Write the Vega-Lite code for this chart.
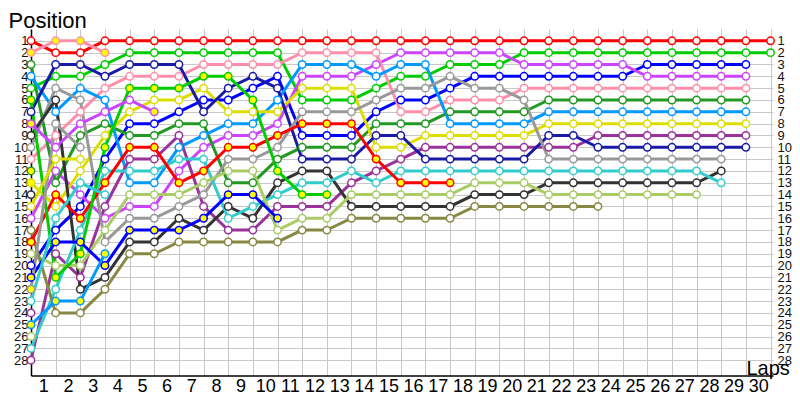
{
"$schema":"https://vega.github.io/schema/vega-lite/v6.json",
"width":742,"height":346.6,"autosize":"none",
"padding":{"left":31,"top":29,"right":27,"bottom":24},
"background":"white",
"config":{"view":{"stroke":null},"font":"Liberation Sans"},
"data":{"values":[
{"d":"A","k":0,"p":1},{"d":"A","k":1,"p":2},{"d":"A","k":2,"p":2},{"d":"A","k":3,"p":1},{"d":"A","k":4,"p":1},{"d":"A","k":5,"p":1},{"d":"A","k":6,"p":1},{"d":"A","k":7,"p":1},{"d":"A","k":8,"p":1},{"d":"A","k":9,"p":1},{"d":"A","k":10,"p":1},{"d":"A","k":11,"p":1},{"d":"A","k":12,"p":1},{"d":"A","k":13,"p":1},{"d":"A","k":14,"p":1},{"d":"A","k":15,"p":1},{"d":"A","k":16,"p":1},{"d":"A","k":17,"p":1},{"d":"A","k":18,"p":1},{"d":"A","k":19,"p":1},{"d":"A","k":20,"p":1},{"d":"A","k":21,"p":1},{"d":"A","k":22,"p":1},{"d":"A","k":23,"p":1},{"d":"A","k":24,"p":1},{"d":"A","k":25,"p":1},{"d":"A","k":26,"p":1},{"d":"A","k":27,"p":1},{"d":"A","k":28,"p":1},{"d":"A","k":29,"p":1},{"d":"A","k":30,"p":1},
{"d":"B","k":0,"p":5},{"d":"B","k":1,"p":4},{"d":"B","k":2,"p":4},{"d":"B","k":3,"p":3},{"d":"B","k":4,"p":2},{"d":"B","k":5,"p":2},{"d":"B","k":6,"p":2},{"d":"B","k":7,"p":2},{"d":"B","k":8,"p":2},{"d":"B","k":9,"p":2},{"d":"B","k":10,"p":2},{"d":"B","k":11,"p":6},{"d":"B","k":12,"p":6},{"d":"B","k":13,"p":6},{"d":"B","k":14,"p":5},{"d":"B","k":15,"p":4},{"d":"B","k":16,"p":4},{"d":"B","k":17,"p":3},{"d":"B","k":18,"p":3},{"d":"B","k":19,"p":3},{"d":"B","k":20,"p":2},{"d":"B","k":21,"p":2},{"d":"B","k":22,"p":2},{"d":"B","k":23,"p":2},{"d":"B","k":24,"p":2},{"d":"B","k":25,"p":2},{"d":"B","k":26,"p":2},{"d":"B","k":27,"p":2},{"d":"B","k":28,"p":2},{"d":"B","k":29,"p":2},{"d":"B","k":30,"p":2},
{"d":"C","k":0,"p":20},{"d":"C","k":1,"p":17},{"d":"C","k":2,"p":15},{"d":"C","k":3,"p":11},{"d":"C","k":4,"p":8},{"d":"C","k":5,"p":8},{"d":"C","k":6,"p":7},{"d":"C","k":7,"p":6},{"d":"C","k":8,"p":6},{"d":"C","k":9,"p":5},{"d":"C","k":10,"p":4},{"d":"C","k":11,"p":9},{"d":"C","k":12,"p":9},{"d":"C","k":13,"p":9},{"d":"C","k":14,"p":7},{"d":"C","k":15,"p":6},{"d":"C","k":16,"p":6},{"d":"C","k":17,"p":5},{"d":"C","k":18,"p":4},{"d":"C","k":19,"p":4},{"d":"C","k":20,"p":4},{"d":"C","k":21,"p":4},{"d":"C","k":22,"p":4},{"d":"C","k":23,"p":4},{"d":"C","k":24,"p":4},{"d":"C","k":25,"p":3},{"d":"C","k":26,"p":3},{"d":"C","k":27,"p":3},{"d":"C","k":28,"p":3},{"d":"C","k":29,"p":3},
{"d":"D","k":0,"p":16},{"d":"D","k":1,"p":12},{"d":"D","k":2,"p":14},{"d":"D","k":3,"p":16},{"d":"D","k":4,"p":15},{"d":"D","k":5,"p":15},{"d":"D","k":6,"p":12},{"d":"D","k":7,"p":10},{"d":"D","k":8,"p":9},{"d":"D","k":9,"p":9},{"d":"D","k":10,"p":8},{"d":"D","k":11,"p":4},{"d":"D","k":12,"p":4},{"d":"D","k":13,"p":4},{"d":"D","k":14,"p":3},{"d":"D","k":15,"p":2},{"d":"D","k":16,"p":2},{"d":"D","k":17,"p":2},{"d":"D","k":18,"p":2},{"d":"D","k":19,"p":2},{"d":"D","k":20,"p":3},{"d":"D","k":21,"p":3},{"d":"D","k":22,"p":3},{"d":"D","k":23,"p":3},{"d":"D","k":24,"p":3},{"d":"D","k":25,"p":4},{"d":"D","k":26,"p":4},{"d":"D","k":27,"p":4},{"d":"D","k":28,"p":4},{"d":"D","k":29,"p":4},
{"d":"E","k":0,"p":11},{"d":"E","k":1,"p":9},{"d":"E","k":2,"p":7},{"d":"E","k":3,"p":5},{"d":"E","k":4,"p":4},{"d":"E","k":5,"p":4},{"d":"E","k":6,"p":4},{"d":"E","k":7,"p":3},{"d":"E","k":8,"p":3},{"d":"E","k":9,"p":3},{"d":"E","k":10,"p":3},{"d":"E","k":11,"p":2},{"d":"E","k":12,"p":2},{"d":"E","k":13,"p":2},{"d":"E","k":14,"p":2},{"d":"E","k":15,"p":7},{"d":"E","k":16,"p":7},{"d":"E","k":17,"p":6},{"d":"E","k":18,"p":6},{"d":"E","k":19,"p":6},{"d":"E","k":20,"p":5},{"d":"E","k":21,"p":5},{"d":"E","k":22,"p":5},{"d":"E","k":23,"p":5},{"d":"E","k":24,"p":5},{"d":"E","k":25,"p":5},{"d":"E","k":26,"p":5},{"d":"E","k":27,"p":5},{"d":"E","k":28,"p":5},{"d":"E","k":29,"p":5},
{"d":"F","k":0,"p":3},{"d":"F","k":1,"p":13},{"d":"F","k":2,"p":9},{"d":"F","k":3,"p":8},{"d":"F","k":4,"p":9},{"d":"F","k":5,"p":9},{"d":"F","k":6,"p":8},{"d":"F","k":7,"p":8},{"d":"F","k":8,"p":13},{"d":"F","k":9,"p":13},{"d":"F","k":10,"p":11},{"d":"F","k":11,"p":10},{"d":"F","k":12,"p":10},{"d":"F","k":13,"p":10},{"d":"F","k":14,"p":8},{"d":"F","k":15,"p":8},{"d":"F","k":16,"p":8},{"d":"F","k":17,"p":7},{"d":"F","k":18,"p":7},{"d":"F","k":19,"p":7},{"d":"F","k":20,"p":7},{"d":"F","k":21,"p":6},{"d":"F","k":22,"p":6},{"d":"F","k":23,"p":6},{"d":"F","k":24,"p":6},{"d":"F","k":25,"p":6},{"d":"F","k":26,"p":6},{"d":"F","k":27,"p":6},{"d":"F","k":28,"p":6},{"d":"F","k":29,"p":6},
{"d":"G","k":0,"p":4},{"d":"G","k":1,"p":7},{"d":"G","k":2,"p":5},{"d":"G","k":3,"p":6},{"d":"G","k":4,"p":13},{"d":"G","k":5,"p":13},{"d":"G","k":6,"p":10},{"d":"G","k":7,"p":9},{"d":"G","k":8,"p":8},{"d":"G","k":9,"p":8},{"d":"G","k":10,"p":6},{"d":"G","k":11,"p":3},{"d":"G","k":12,"p":3},{"d":"G","k":13,"p":3},{"d":"G","k":14,"p":4},{"d":"G","k":15,"p":3},{"d":"G","k":16,"p":3},{"d":"G","k":17,"p":8},{"d":"G","k":18,"p":8},{"d":"G","k":19,"p":8},{"d":"G","k":20,"p":8},{"d":"G","k":21,"p":7},{"d":"G","k":22,"p":7},{"d":"G","k":23,"p":7},{"d":"G","k":24,"p":7},{"d":"G","k":25,"p":7},{"d":"G","k":26,"p":7},{"d":"G","k":27,"p":7},{"d":"G","k":28,"p":7},{"d":"G","k":29,"p":7},
{"d":"H","k":0,"p":13,"f":1},{"d":"H","k":1,"p":15},{"d":"H","k":2,"p":12},{"d":"H","k":3,"p":9},{"d":"H","k":4,"p":7},{"d":"H","k":5,"p":6},{"d":"H","k":6,"p":6},{"d":"H","k":7,"p":5},{"d":"H","k":8,"p":7},{"d":"H","k":9,"p":7},{"d":"H","k":10,"p":7},{"d":"H","k":11,"p":5},{"d":"H","k":12,"p":5},{"d":"H","k":13,"p":5},{"d":"H","k":14,"p":10},{"d":"H","k":15,"p":10},{"d":"H","k":16,"p":9},{"d":"H","k":17,"p":9},{"d":"H","k":18,"p":9},{"d":"H","k":19,"p":9},{"d":"H","k":20,"p":9},{"d":"H","k":21,"p":8},{"d":"H","k":22,"p":8},{"d":"H","k":23,"p":8},{"d":"H","k":24,"p":8},{"d":"H","k":25,"p":8},{"d":"H","k":26,"p":8},{"d":"H","k":27,"p":8},{"d":"H","k":28,"p":8},{"d":"H","k":29,"p":8},
{"d":"I","k":0,"p":28},{"d":"I","k":1,"p":19},{"d":"I","k":2,"p":21},{"d":"I","k":3,"p":15},{"d":"I","k":4,"p":11},{"d":"I","k":5,"p":11},{"d":"I","k":6,"p":9},{"d":"I","k":7,"p":15},{"d":"I","k":8,"p":17},{"d":"I","k":9,"p":17},{"d":"I","k":10,"p":15},{"d":"I","k":11,"p":15},{"d":"I","k":12,"p":15},{"d":"I","k":13,"p":13},{"d":"I","k":14,"p":12},{"d":"I","k":15,"p":11},{"d":"I","k":16,"p":10},{"d":"I","k":17,"p":10},{"d":"I","k":18,"p":10},{"d":"I","k":19,"p":10},{"d":"I","k":20,"p":10},{"d":"I","k":21,"p":10},{"d":"I","k":22,"p":10},{"d":"I","k":23,"p":9},{"d":"I","k":24,"p":9},{"d":"I","k":25,"p":9},{"d":"I","k":26,"p":9},{"d":"I","k":27,"p":9},{"d":"I","k":28,"p":9},{"d":"I","k":29,"p":9},
{"d":"J","k":0,"p":7},{"d":"J","k":1,"p":3},{"d":"J","k":2,"p":3},{"d":"J","k":3,"p":4},{"d":"J","k":4,"p":3},{"d":"J","k":5,"p":3},{"d":"J","k":6,"p":3},{"d":"J","k":7,"p":7},{"d":"J","k":8,"p":5},{"d":"J","k":9,"p":4},{"d":"J","k":10,"p":5},{"d":"J","k":11,"p":11},{"d":"J","k":12,"p":11},{"d":"J","k":13,"p":11},{"d":"J","k":14,"p":9},{"d":"J","k":15,"p":9},{"d":"J","k":16,"p":11},{"d":"J","k":17,"p":11},{"d":"J","k":18,"p":11},{"d":"J","k":19,"p":11},{"d":"J","k":20,"p":11},{"d":"J","k":21,"p":9},{"d":"J","k":22,"p":9},{"d":"J","k":23,"p":10},{"d":"J","k":24,"p":10},{"d":"J","k":25,"p":10},{"d":"J","k":26,"p":10},{"d":"J","k":27,"p":10},{"d":"J","k":28,"p":10},{"d":"J","k":29,"p":10},
{"d":"K","k":0,"p":10},{"d":"K","k":1,"p":5},{"d":"K","k":2,"p":6},{"d":"K","k":3,"p":18},{"d":"K","k":4,"p":16},{"d":"K","k":5,"p":16},{"d":"K","k":6,"p":15},{"d":"K","k":7,"p":14},{"d":"K","k":8,"p":11},{"d":"K","k":9,"p":11},{"d":"K","k":10,"p":10},{"d":"K","k":11,"p":7},{"d":"K","k":12,"p":7},{"d":"K","k":13,"p":7},{"d":"K","k":14,"p":6},{"d":"K","k":15,"p":5},{"d":"K","k":16,"p":5},{"d":"K","k":17,"p":4},{"d":"K","k":18,"p":5},{"d":"K","k":19,"p":5},{"d":"K","k":20,"p":6},{"d":"K","k":21,"p":11},{"d":"K","k":22,"p":11},{"d":"K","k":23,"p":11},{"d":"K","k":24,"p":11},{"d":"K","k":25,"p":11},{"d":"K","k":26,"p":11},{"d":"K","k":27,"p":11},{"d":"K","k":28,"p":11},
{"d":"L","k":0,"p":9},{"d":"L","k":1,"p":6},{"d":"L","k":2,"p":22},{"d":"L","k":3,"p":21},{"d":"L","k":4,"p":18},{"d":"L","k":5,"p":18},{"d":"L","k":6,"p":16},{"d":"L","k":7,"p":17},{"d":"L","k":8,"p":15},{"d":"L","k":9,"p":16},{"d":"L","k":10,"p":13},{"d":"L","k":11,"p":12},{"d":"L","k":12,"p":12},{"d":"L","k":13,"p":15},{"d":"L","k":14,"p":15},{"d":"L","k":15,"p":15},{"d":"L","k":16,"p":15},{"d":"L","k":17,"p":15},{"d":"L","k":18,"p":14},{"d":"L","k":19,"p":14},{"d":"L","k":20,"p":14},{"d":"L","k":21,"p":13},{"d":"L","k":22,"p":13},{"d":"L","k":23,"p":13},{"d":"L","k":24,"p":13},{"d":"L","k":25,"p":13},{"d":"L","k":26,"p":13},{"d":"L","k":27,"p":13},{"d":"L","k":28,"p":12},
{"d":"M","k":0,"p":27},{"d":"M","k":1,"p":22},{"d":"M","k":2,"p":17},{"d":"M","k":3,"p":12},{"d":"M","k":4,"p":12},{"d":"M","k":5,"p":12},{"d":"M","k":6,"p":11},{"d":"M","k":7,"p":11},{"d":"M","k":8,"p":16},{"d":"M","k":9,"p":15},{"d":"M","k":10,"p":14},{"d":"M","k":11,"p":13},{"d":"M","k":12,"p":13},{"d":"M","k":13,"p":12},{"d":"M","k":14,"p":13},{"d":"M","k":15,"p":12},{"d":"M","k":16,"p":12},{"d":"M","k":17,"p":12},{"d":"M","k":18,"p":12},{"d":"M","k":19,"p":12},{"d":"M","k":20,"p":12},{"d":"M","k":21,"p":12},{"d":"M","k":22,"p":12},{"d":"M","k":23,"p":12},{"d":"M","k":24,"p":12},{"d":"M","k":25,"p":12},{"d":"M","k":26,"p":12},{"d":"M","k":27,"p":12},{"d":"M","k":28,"p":13},
{"d":"N","k":0,"p":19},{"d":"N","k":1,"p":20},{"d":"N","k":2,"p":20},{"d":"N","k":3,"p":17},{"d":"N","k":4,"p":14},{"d":"N","k":5,"p":14},{"d":"N","k":6,"p":14},{"d":"N","k":7,"p":13},{"d":"N","k":8,"p":12},{"d":"N","k":9,"p":12},{"d":"N","k":10,"p":17},{"d":"N","k":11,"p":16},{"d":"N","k":12,"p":16},{"d":"N","k":13,"p":14},{"d":"N","k":14,"p":14},{"d":"N","k":15,"p":14},{"d":"N","k":16,"p":14},{"d":"N","k":17,"p":14},{"d":"N","k":18,"p":13},{"d":"N","k":19,"p":13},{"d":"N","k":20,"p":13},{"d":"N","k":21,"p":14},{"d":"N","k":22,"p":14},{"d":"N","k":23,"p":14},{"d":"N","k":24,"p":14},{"d":"N","k":25,"p":14},{"d":"N","k":26,"p":14},{"d":"N","k":27,"p":14},
{"d":"O","k":0,"p":17},{"d":"O","k":1,"p":24},{"d":"O","k":2,"p":24},{"d":"O","k":3,"p":22},{"d":"O","k":4,"p":19},{"d":"O","k":5,"p":19},{"d":"O","k":6,"p":18},{"d":"O","k":7,"p":18},{"d":"O","k":8,"p":18},{"d":"O","k":9,"p":18},{"d":"O","k":10,"p":18},{"d":"O","k":11,"p":17},{"d":"O","k":12,"p":17},{"d":"O","k":13,"p":16},{"d":"O","k":14,"p":16},{"d":"O","k":15,"p":16},{"d":"O","k":16,"p":16},{"d":"O","k":17,"p":16},{"d":"O","k":18,"p":15},{"d":"O","k":19,"p":15},{"d":"O","k":20,"p":15},{"d":"O","k":21,"p":15},{"d":"O","k":22,"p":15},{"d":"O","k":23,"p":15},
{"d":"P","k":0,"p":18,"f":1},{"d":"P","k":1,"p":14,"f":1},{"d":"P","k":2,"p":16,"f":1},{"d":"P","k":3,"p":13,"f":1},{"d":"P","k":4,"p":10,"f":1},{"d":"P","k":5,"p":10,"f":1},{"d":"P","k":6,"p":13,"f":1},{"d":"P","k":7,"p":12,"f":1},{"d":"P","k":8,"p":10,"f":1},{"d":"P","k":9,"p":10,"f":1},{"d":"P","k":10,"p":9,"f":1},{"d":"P","k":11,"p":8,"f":1},{"d":"P","k":12,"p":8,"f":1},{"d":"P","k":13,"p":8,"f":1},{"d":"P","k":14,"p":11,"f":1},{"d":"P","k":15,"p":13,"f":1},{"d":"P","k":16,"p":13,"f":1},{"d":"P","k":17,"p":13,"f":1},
{"d":"Q","k":0,"p":6,"f":1},{"d":"Q","k":1,"p":21,"f":1},{"d":"Q","k":2,"p":19,"f":1},{"d":"Q","k":3,"p":10,"f":1},{"d":"Q","k":4,"p":5,"f":1},{"d":"Q","k":5,"p":5,"f":1},{"d":"Q","k":6,"p":5,"f":1},{"d":"Q","k":7,"p":4,"f":1},{"d":"Q","k":8,"p":4,"f":1},{"d":"Q","k":9,"p":6,"f":1},{"d":"Q","k":10,"p":12,"f":1},{"d":"Q","k":11,"p":14,"f":1},{"d":"Q","k":12,"p":14,"f":1},
{"d":"R","k":0,"p":2,"f":1},{"d":"R","k":1,"p":1,"f":1},{"d":"R","k":2,"p":1,"f":1},{"d":"R","k":3,"p":2,"f":1},
{"d":"S","k":0,"p":21,"f":1},{"d":"S","k":1,"p":18,"f":1},{"d":"S","k":2,"p":18,"f":1},{"d":"S","k":3,"p":20,"f":1},{"d":"S","k":4,"p":17,"f":1},{"d":"S","k":5,"p":17,"f":1},{"d":"S","k":6,"p":17,"f":1},{"d":"S","k":7,"p":16,"f":1},{"d":"S","k":8,"p":14,"f":1},{"d":"S","k":9,"p":14,"f":1},{"d":"S","k":10,"p":16,"f":1},
{"d":"T","k":0,"p":8,"f":1},{"d":"T","k":1,"p":10},{"d":"T","k":2,"p":8},{"d":"T","k":3,"p":7},{"d":"T","k":4,"p":6},{"d":"T","k":5,"p":7,"f":1},
{"d":"U","k":0,"p":25,"f":1},{"d":"U","k":1,"p":23,"f":1},{"d":"U","k":2,"p":23,"f":1},{"d":"U","k":3,"p":19,"f":1},
{"d":"V","k":0,"p":23},{"d":"V","k":1,"p":16},{"d":"V","k":2,"p":13},{"d":"V","k":3,"p":14},
{"d":"W","k":0,"p":22,"f":1},{"d":"W","k":1,"p":8},{"d":"W","k":2,"p":10},
{"d":"AA","k":0,"p":15},{"d":"AA","k":1,"p":11},{"d":"AA","k":2,"p":11},
{"d":"X","k":0,"p":14},{"d":"Y","k":0,"p":24},{"d":"Z","k":0,"p":26},{"d":"AB","k":0,"p":12,"f":1}
]},
"encoding":{
"x":{"field":"k","type":"quantitative","scale":{"domain":[0,30.1],"nice":false,"zero":false},
"axis":{"values":[0,1,2,3,4,5,6,7,8,9,10,11,12,13,14,15,16,17,18,19,20,21,22,23,24,25,26,27,28,29,30],"labelExpr":"datum.value==0?'':datum.label","labelOffset":-12.3,"grid":true,"gridColor":"#c8c8c8","gridWidth":1,"ticks":false,"domainColor":"#000000","domainWidth":1.5,"labelFontSize":18,"labelColor":"#000000","labelPadding":2,"labelFlush":false,"labelOverlap":false,"labelBound":false,"title":"Laps","titleX":715,"titleY":-1,"titleAlign":"left","titleBaseline":"alphabetic","titleFontSize":20,"titleFontWeight":"normal","titleColor":"#000000"}}
},
"layer":[
{"mark":{"type":"line","strokeWidth":3,"clip":false},
"encoding":{
"y":{"field":"p","type":"quantitative","scale":{"domain":[0,29.3],"reverse":true,"nice":false,"zero":false},
"axis":{"values":[1,2,3,4,5,6,7,8,9,10,11,12,13,14,15,16,17,18,19,20,21,22,23,24,25,26,27,28],"grid":true,"gridColor":"#c8c8c8","gridWidth":1,"ticks":false,"domainColor":"#000000","domainWidth":1.5,"labelFontSize":13,"labelColor":"#111111","labelPadding":3,"labelOverlap":false,"labelBound":false,"labelFlush":false,"title":"Position","titleAngle":0,"titleX":-23,"titleY":-1,"titleAlign":"left","titleBaseline":"alphabetic","titleFontSize":22,"titleFontWeight":"normal","titleColor":"#000000"}},
"color":{"field":"d","type":"nominal","legend":null,"scale":{"domain":["A","B","C","D","E","F","G","H","I","J","K","L","M","N","O","P","Q","R","S","T","U","V","W","X","Y","Z","AA","AB"],"range":["#ff0000","#00cc00","#0000ff","#cc44ff","#ff8fab","#229922","#0099ff","#dddd00","#993399","#1a1aa6","#999999","#333333","#33cccc","#aacc66","#888844","#ff0000","#00cc00","#ff8fab","#0000ff","#cc44ff","#0099ff","#33cccc","#999999","#333333","#993399","#aacc66","#dddd00","#229922"]}},
"order":{"field":"k","type":"quantitative"}}},
{"mark":{"type":"point","shape":"circle","filled":true,"size":55,"strokeWidth":1.5,"opacity":1,"clip":false},
"encoding":{
"y":{"field":"p","type":"quantitative","axis":{"orient":"right","values":[1,2,3,4,5,6,7,8,9,10,11,12,13,14,15,16,17,18,19,20,21,22,23,24,25,26,27,28],"grid":false,"ticks":false,"domain":false,"labelFontSize":13,"labelColor":"#111111","labelPadding":4,"labelOverlap":false,"labelBound":false,"labelFlush":false,"title":null}},
"stroke":{"field":"d","type":"nominal","legend":null,"scale":{"domain":["A","B","C","D","E","F","G","H","I","J","K","L","M","N","O","P","Q","R","S","T","U","V","W","X","Y","Z","AA","AB"],"range":["#ff0000","#00cc00","#0000ff","#cc44ff","#ff8fab","#229922","#0099ff","#dddd00","#993399","#1a1aa6","#999999","#333333","#33cccc","#aacc66","#888844","#ff0000","#00cc00","#ff8fab","#0000ff","#cc44ff","#0099ff","#33cccc","#999999","#333333","#993399","#aacc66","#dddd00","#229922"]}},
"fill":{"condition":{"test":"datum.f===1","value":"#ffff00"},"value":"#ffffff"}}}
],
"resolve":{"axis":{"y":"independent"}}
}
